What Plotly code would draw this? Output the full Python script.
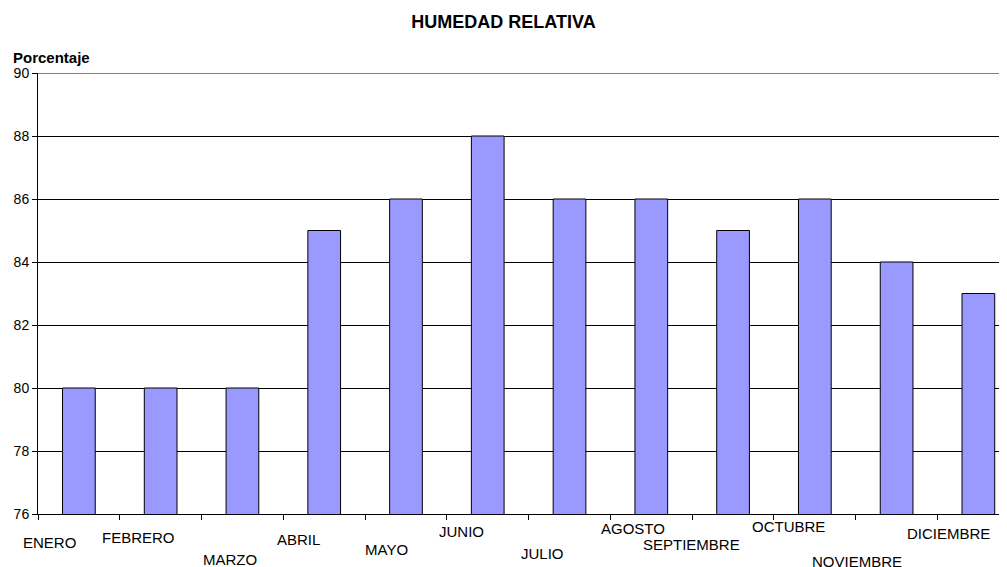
import plotly.graph_objects as go

months = ["ENERO", "FEBRERO", "MARZO", "ABRIL", "MAYO", "JUNIO",
          "JULIO", "AGOSTO", "SEPTIEMBRE", "OCTUBRE", "NOVIEMBRE", "DICIEMBRE"]
humidity = [80, 80, 80, 85, 86, 88, 86, 86, 85, 86, 84, 83]
y_ticks = [76, 78, 80, 82, 84, 86, 88, 90]

# staggered month labels, offsets in pixels (x from bar centre, y below axis)
label_dx = [-29, -22, -12, -26, -19, -26, -27, -18, -42, -26, -40, -30]
label_dy = [28, 23, 45, 25, 35, 17, 39, 14, 30, 12, 47, 19]

ink = 'black'
font = "Arial, 'Liberation Sans', sans-serif"

fig = go.Figure()
fig.add_trace(go.Bar(x=months,
                     y=humidity,
                     width=0.4,
                     marker=dict(color='#9999FF',
                                 line=dict(color=ink, width=1)),
                     hoverinfo='x+y'))

for m, dx, dy in zip(months, label_dx, label_dy):
    fig.add_annotation(x=m, xref='x', y=0, yref='paper',
                       text=m, showarrow=False,
                       xanchor='center', yanchor='middle',
                       xshift=dx, yshift=-dy,
                       font=dict(size=15, color=ink, family=font))

fig.add_annotation(x=0, xref='paper', xanchor='left', xshift=-27,
                   y=1, yref='paper', yanchor='middle', yshift=16,
                   text="<b>Porcentaje</b>", showarrow=False,
                   font=dict(size=15, color=ink, family=font))

# page body has an 8px margin, so the figure is drawn 8px smaller
fig.update_layout(width=999, height=559,
                  margin=dict(l=30, r=0, t=65, b=53),
                  plot_bgcolor='white',
                  paper_bgcolor='white',
                  showlegend=False,
                  font=dict(family=font, size=14, color=ink),
                  title=dict(text="<b>HUMEDAD RELATIVA</b>",
                             x=0.496, xanchor='center',
                             y=0.9755, yanchor='middle',
                             font=dict(size=18, color=ink)))

fig.update_xaxes(type='category',
                 range=[-0.5, 11.35],
                 showticklabels=False,
                 tickson='boundaries',
                 ticks='outside',
                 ticklen=5,
                 tickcolor=ink,
                 showline=True,
                 linecolor=ink,
                 linewidth=1,
                 showgrid=False)
fig.update_yaxes(range=[76, 90],
                 tickvals=y_ticks,
                 ticks='outside',
                 ticklen=5,
                 tickcolor=ink,
                 showline=True,
                 linecolor=ink,
                 linewidth=1,
                 showgrid=True,
                 gridcolor=ink,
                 gridwidth=1,
                 zeroline=False,
                 automargin=False,
                 tickfont=dict(size=14, color=ink))

# plot-area top border
fig.add_shape(type='line', xref='paper', yref='y',
              x0=0, x1=1, y0=90, y1=90,
              line=dict(color='#808080', width=2))

fig.write_html("out.html")
